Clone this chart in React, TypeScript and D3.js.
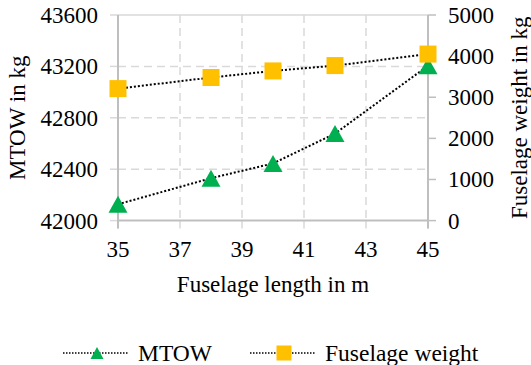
import React, { useEffect } from 'react';
import * as d3 from 'd3';

// Chart data
const lengths = [35, 38, 40, 42, 45];
const mtow = [42127, 42330, 42445, 42677, 43205];
const fuselageWeight = [3210, 3480, 3640, 3770, 4050];

const xTicks = [35, 37, 39, 41, 43, 45];
const yLeftTicks = [42000, 42400, 42800, 43200, 43600];
const yRightTicks = [0, 1000, 2000, 3000, 4000, 5000];

const GREEN = '#00B050';
const YELLOW = '#FFC000';
const AXIS = '#bfbfbf';
const GRID = '#d9d9d9';
const TXT = { fontFamily: "'Liberation Serif'" };

const triangle = (cx: number, cy: number, w: number, h: number) =>
  `M${cx - w / 2},${cy + h / 2}L${cx},${cy - h / 2}L${cx + w / 2},${cy + h / 2}Z`;

const App = () => {
  const width = 531;
  const height = 365;
  const marginLeft = 118;
  const marginRight = 103;
  const marginTop = 15;
  const plotBottom = 220.6;

  useEffect(() => {
    document.body.style.margin = '0';
  }, []);

  const x = d3.scaleLinear().domain([35, 45]).range([marginLeft, width - marginRight]);
  const yL = d3.scaleLinear().domain([42000, 43600]).range([plotBottom, marginTop]);
  const yR = d3.scaleLinear().domain([0, 5000]).range([plotBottom, marginTop]);

  const mtowLine = d3.line<number>()
    .x((_, i) => x(lengths[i]))
    .y(d => yL(d));
  const fuseLine = d3.line<number>()
    .x((_, i) => x(lengths[i]))
    .y(d => yR(d));

  const x0 = x(35);
  const x1 = x(45);

  return (
    <svg width={width} height={height} style={{ display: 'block' }}>
      {/* horizontal gridlines */}
      {yLeftTicks.slice(1, -1).map(t => (
        <line key={'hg' + t} x1={x0} x2={x1} y1={yL(t)} y2={yL(t)}
          stroke={GRID} strokeWidth={1.5} strokeDasharray="8,5" />
      ))}
      <line x1={x0} x2={x1} y1={yL(43600)} y2={yL(43600)} stroke={GRID} strokeWidth={1.5} />
      {/* vertical gridlines */}
      {xTicks.slice(1, -1).map(t => (
        <line key={'vg' + t} x1={x(t)} x2={x(t)} y1={marginTop} y2={plotBottom}
          stroke={GRID} strokeWidth={1.5} strokeDasharray="8,5" />
      ))}
      {/* tick marks */}
      {xTicks.map(t => (
        <line key={'xt' + t} x1={x(t)} x2={x(t)} y1={plotBottom} y2={plotBottom + 8} stroke={GRID} strokeWidth={1.5} />
      ))}
      {yLeftTicks.map(t => (
        <line key={'lt' + t} x1={x0 - 8} x2={x0} y1={yL(t)} y2={yL(t)} stroke={GRID} strokeWidth={1.5} />
      ))}
      {yRightTicks.map(t => (
        <line key={'rt' + t} x1={x1} x2={x1 + 8} y1={yR(t)} y2={yR(t)} stroke={AXIS} strokeWidth={1.5} />
      ))}
      {/* axes */}
      <line x1={x0} x2={x1} y1={plotBottom} y2={plotBottom} stroke={AXIS} strokeWidth={2} />
      <line x1={x0} x2={x0} y1={marginTop} y2={plotBottom + 8} stroke={AXIS} strokeWidth={2} />
      <line x1={x1} x2={x1} y1={marginTop} y2={plotBottom + 8} stroke={AXIS} strokeWidth={2} />

      {/* tick labels */}
      {yLeftTicks.map(t => (
        <text key={'ll' + t} x={x0 - 20} y={yL(t) + 8} textAnchor="end" fontSize={23} style={TXT}>{t}</text>
      ))}
      {yRightTicks.map(t => (
        <text key={'rl' + t} x={x1 + 20} y={yR(t) + 8} textAnchor="start" fontSize={23} style={TXT}>{t}</text>
      ))}
      {xTicks.map(t => (
        <text key={'xl' + t} x={x(t)} y={plotBottom + 36} textAnchor="middle" fontSize={23} style={TXT}>{t}</text>
      ))}

      {/* axis titles */}
      <text transform={`translate(25,${(marginTop + plotBottom) / 2}) rotate(-90)`} textAnchor="middle" fontSize={23} style={TXT}>MTOW in kg</text>
      <text transform={`translate(527,${(marginTop + plotBottom) / 2}) rotate(-90)`} textAnchor="middle" fontSize={23} style={TXT}>Fuselage weight in kg</text>
      <text x={(x0 + x1) / 2} y={292} textAnchor="middle" fontSize={23} style={TXT}>Fuselage length in m</text>

      {/* MTOW series */}
      <path d={mtowLine(mtow) ?? ''} fill="none" stroke="#000" strokeWidth={2} strokeDasharray="2,2" />
      {mtow.map((v, i) => (
        <path key={'m' + i} d={triangle(x(lengths[i]), yL(v), 19, 17)} fill={GREEN} />
      ))}

      {/* Fuselage weight series */}
      <path d={fuseLine(fuselageWeight) ?? ''} fill="none" stroke="#000" strokeWidth={2} strokeDasharray="2,2" />
      {fuselageWeight.map((v, i) => (
        <rect key={'f' + i} x={x(lengths[i]) - 8.5} y={yR(v) - 8.5} width={17} height={17} fill={YELLOW} />
      ))}

      {/* legend */}
      <line x1={63} x2={128} y1={353} y2={353} stroke="#000" strokeWidth={1.5} strokeDasharray="1.5,1.5" />
      <path d={triangle(97, 353, 13, 12)} fill={GREEN} />
      <text x={138} y={361} fontSize={23.5} style={TXT}>MTOW</text>
      <line x1={250} x2={316} y1={353} y2={353} stroke="#000" strokeWidth={1.5} strokeDasharray="1.5,1.5" />
      <rect x={284 - 7.5} y={353 - 7.5} width={15} height={15} fill={YELLOW} />
      <text x={325} y={361} fontSize={23.5} style={TXT}>Fuselage weight</text>
    </svg>
  );
};

export default App;
